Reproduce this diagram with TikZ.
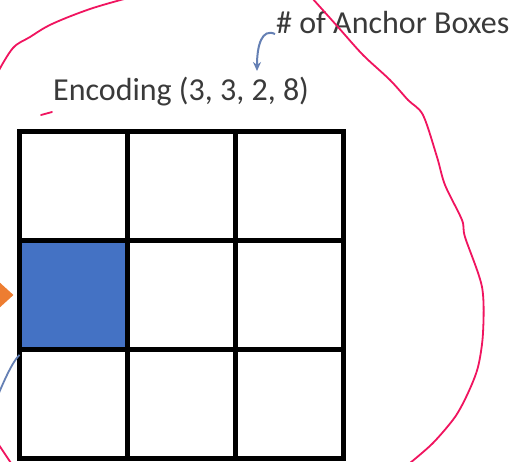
\documentclass[tikz,border=0pt]{standalone}
\usepackage{fontspec}
\setmainfont{Carlito}
\usetikzlibrary{arrows.meta}
\definecolor{cellblue}{HTML}{4472C4}
\definecolor{pointer}{HTML}{6580B4}
\definecolor{marker}{HTML}{F0145F}
\definecolor{hint}{HTML}{ED7D31}
\definecolor{label}{HTML}{3A3A3A}
\tikzset{
  cell/.style={draw=black, line width=5pt, minimum width=108pt, minimum height=108.7pt, inner sep=0pt, fill=white},
  hot/.style={cell, fill=cellblue},
  caption/.style={font=\fontsize{32}{34}\selectfont, text=label, inner sep=0pt, anchor=base west},
  ink/.style={draw=marker, line width=1.8pt, line cap=round, line join=round},
}
\begin{document}
\begin{tikzpicture}[x=1pt, y=-1pt]
\clip (0,0) rectangle (516,461);
\fill[white] (0,0) rectangle (516,461);

% captions
\node[caption] (enc) at (53,100) {Encoding (3, 3, 2, 8)};
\node[caption] (anch) at (276,33) {\# of Anchor Boxes};

% 3x3 grid of cells
\foreach \r/\y in {1/186.3, 2/295, 3/403.7}{
  \foreach \c/\x in {1/73, 2/181, 3/289}{
    \node[cell] (c\r\c) at (\x,\y) {};
  }
}
\node[hot] (c21) at (73,295) {};

% pointer from the label to the anchor-box count
\coordinate (two) at (257,71);
\draw[pointer, line width=2pt, -{Stealth[length=9pt, width=8pt]}]
  ([xshift=-1pt,yshift=-12pt]anch.west) .. controls (262,28) and (257,45) .. (two);

% orange arrow entering the highlighted cell
\coordinate (src) at (-30,295);
\draw[hint, line width=10pt, -{Triangle[length=16pt, width=28pt]}] (src) -- ([xshift=-3pt]c21.west);

% thin line leaving the highlighted cell
\coordinate (away) at (-6,405);
\draw[pointer, line width=1.8pt] ([xshift=3pt,yshift=-3pt]c21.south west) .. controls (12,362) and (2,385) .. (away);

% freehand markings
\draw[ink] plot[smooth, tension=0.6] coordinates {(-2,72) (13,48) (30,37) (52,24) (90,9) (128,-2)};
\draw[ink] (41,115) -- (52,112);
\draw[ink] plot[smooth, tension=0.5] coordinates {(312,-2) (338,27) (363,55) (390,80) (408,100) (423,115) (437,157) (445,185) (462,220) (465,237) (482,287) (483,333) (478,367) (468,393) (455,417) (433,443) (410,463)};
\draw[ink] (-1,445) -- (11,463);
\end{tikzpicture}
\end{document}
